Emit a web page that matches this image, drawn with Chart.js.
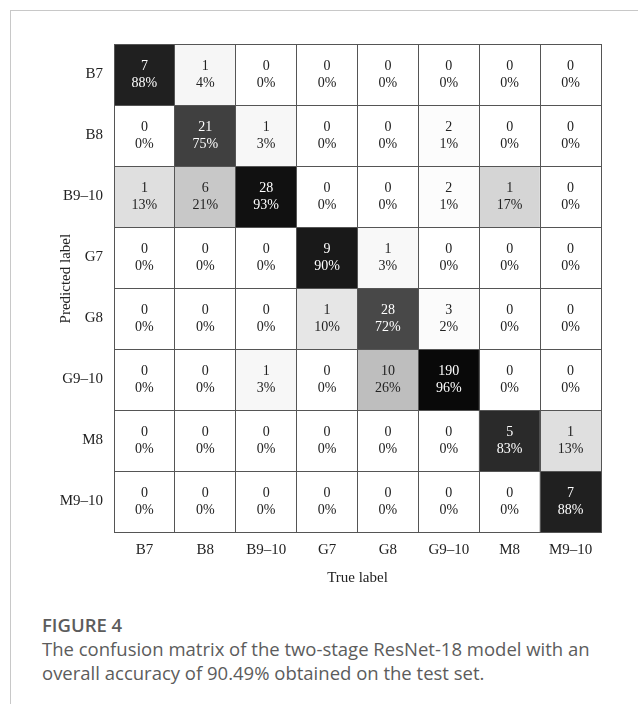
<!DOCTYPE html>
<html>
<head>
<meta charset="utf-8">
<script src="https://cdn.jsdelivr.net/npm/chart.js@4.4.0/dist/chart.umd.min.js"></script>
<style>
  html, body { margin: 0; padding: 0; background: #fff; }
  #wrap { position: relative; width: 638px; height: 704px; overflow: hidden; }
  #frame { position: absolute; left: 10px; top: 10px; width: 700px; height: 760px;
           border-top: 1px solid #c8c8c8; border-left: 1px solid #c8c8c8; }
  #cm { position: absolute; left: 0; top: 0; }
  .cap { position: absolute; left: 42px; font-family: "Open Sans", sans-serif; color: #5c5c5c; white-space: nowrap; }
  .fig { top: 613px; font-size: 18.5px; font-weight: 600; line-height: 24px; }
  .txt { top: 637px; font-size: 18.5px; line-height: 23.5px; }
</style>
</head>
<body>
<div id="wrap">
  <div id="frame"></div>
  <canvas id="cm" width="638" height="600"></canvas>
  <div class="cap fig">FIGURE 4</div>
  <div class="cap txt">The confusion matrix of the two-stage ResNet-18 model with an<br>overall accuracy of 90.49% obtained on the test set.</div>
</div>
<script>
// Class names (same order on both axes)
const trueLabels = ['B7', 'B8', 'B9–10', 'G7', 'G8', 'G9–10', 'M8', 'M9–10'];
const predictedLabels = ['B7', 'B8', 'B9–10', 'G7', 'G8', 'G9–10', 'M8', 'M9–10'];

// Counts per predicted class (row), one entry per true class (column)
const rowB7   = [7, 1, 0, 0, 0, 0, 0, 0];
const rowB8   = [0, 21, 1, 0, 0, 2, 0, 0];
const rowB910 = [1, 6, 28, 0, 0, 2, 1, 0];
const rowG7   = [0, 0, 0, 9, 1, 0, 0, 0];
const rowG8   = [0, 0, 0, 1, 28, 3, 0, 0];
const rowG910 = [0, 0, 1, 0, 10, 190, 0, 0];
const rowM8   = [0, 0, 0, 0, 0, 0, 5, 1];
const rowM910 = [0, 0, 0, 0, 0, 0, 0, 7];

const counts = [rowB7, rowB8, rowB910, rowG7, rowG8, rowG910, rowM8, rowM910];

// Column-normalised share (fraction of each true class)
const colTotals = trueLabels.map((_, c) => counts.reduce((s, row) => s + row[c], 0));
const share = (r, c) => colTotals[c] ? counts[r][c] / colTotals[c] : 0;
const grey = p => { const v = Math.round(255 * (1 - p)); return `rgb(${v},${v},${v})`; };

const SERIF = '"Liberation Serif", "DejaVu Serif", serif';
const INK = '#222';
const LINE = '#555';

// One stacked dataset per predicted row; every cell is one unit tall
const datasets = predictedLabels.map((name, r) => ({
  label: name,
  data: trueLabels.map(() => 1),
  backgroundColor: trueLabels.map((_, c) => grey(share(r, c))),
  borderWidth: 0,
  barPercentage: 1,
  categoryPercentage: 1,
  yAxisID: 'yv',
  stack: 'cells'
}));

// Writes count and percentage inside each cell
const cellText = {
  id: 'cellText',
  afterDatasetsDraw(chart) {
    const ctx = chart.ctx;
    ctx.save();
    ctx.font = '14px ' + SERIF;
    ctx.textAlign = 'center';
    ctx.textBaseline = 'middle';
    chart.data.datasets.forEach((ds, r) => {
      chart.getDatasetMeta(r).data.forEach((bar, c) => {
        const p = share(r, c);
        const cy = (bar.y + bar.base) / 2;
        ctx.fillStyle = p > 0.5 ? '#fff' : INK;
        ctx.fillText(String(counts[r][c]), bar.x, cy - 8.5);
        ctx.fillText(Math.round(p * 100) + '%', bar.x, cy + 8.5);
      });
    });
    ctx.restore();
  }
};

new Chart(document.getElementById('cm'), {
  type: 'bar',
  data: { labels: trueLabels, datasets },
  options: {
    responsive: false,
    animation: false,
    devicePixelRatio: 1,
    layout: { padding: { left: 0, top: 44, right: 37, bottom: 0 } },
    plugins: { legend: { display: false }, tooltip: { enabled: false } },
    scales: {
      x: {
        type: 'category',
        offset: true,
        stacked: true,
        grid: { offset: true, color: LINE, lineWidth: 1, drawTicks: false, z: 1 },
        border: { display: true, color: LINE, width: 1, z: 1 },
        ticks: { padding: 9, color: INK, font: { family: SERIF, size: 15 } },
        title: { display: true, text: 'True label', color: INK,
                 font: { family: SERIF, size: 15 }, padding: { top: 0, bottom: 13 } },
        afterFit: s => { s.height = 68; }
      },
      y: {
        type: 'category',
        labels: predictedLabels,
        offset: true,
        position: 'left',
        grid: { offset: true, color: LINE, lineWidth: 1, drawTicks: false, z: 1 },
        border: { display: true, color: LINE, width: 1, z: 1 },
        ticks: { padding: 11, color: INK, font: { family: SERIF, size: 15 } },
        // leading spaces lift the rotated title slightly above the axis centre
        title: { display: true, text: '     Predicted label', color: INK,
                 font: { family: SERIF, size: 15 }, padding: { top: 57, bottom: 0 } },
        afterFit: s => { s.width = 114; }
      },
      yv: { type: 'linear', display: false, stacked: true, reverse: true, min: 0, max: 8 }
    }
  },
  plugins: [cellText]
});
</script>
</body>
</html>
